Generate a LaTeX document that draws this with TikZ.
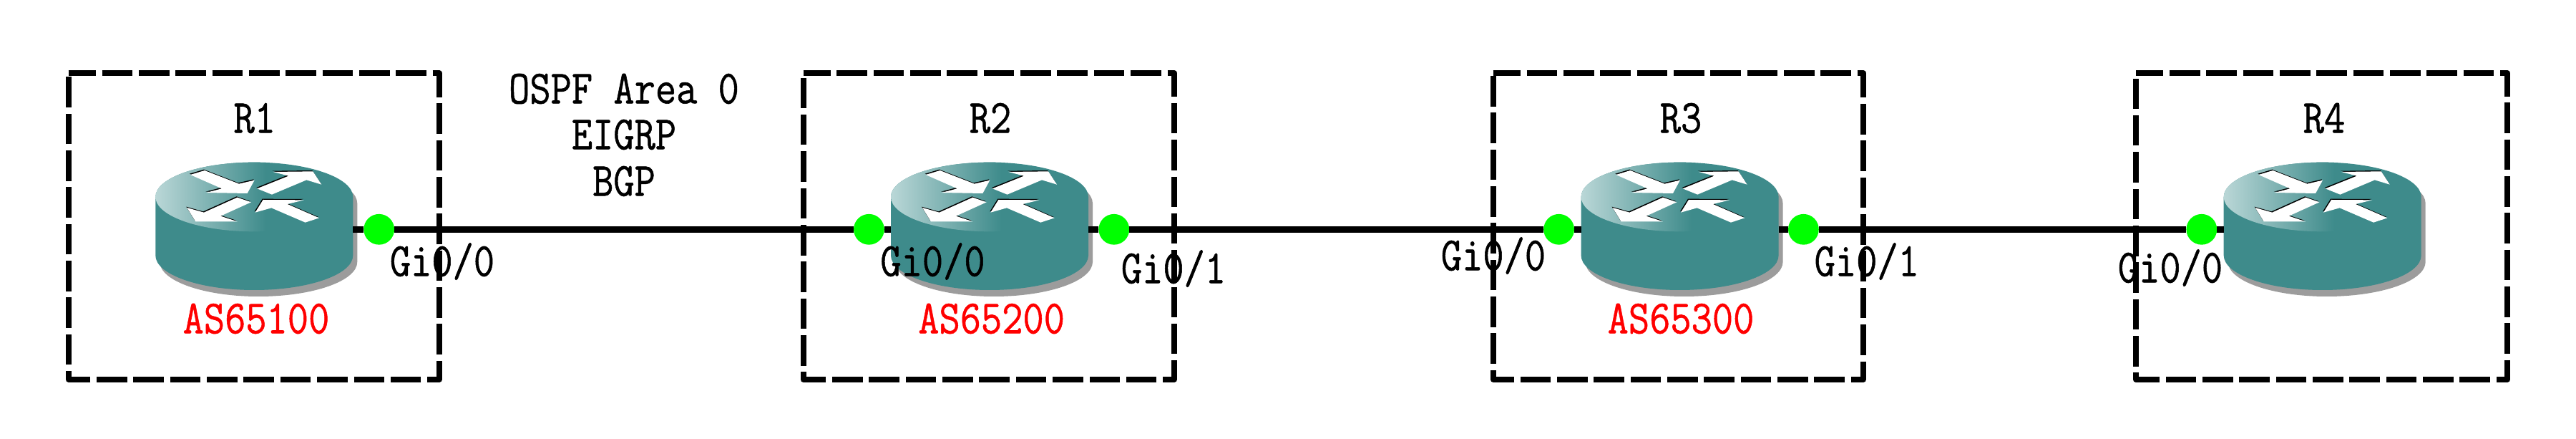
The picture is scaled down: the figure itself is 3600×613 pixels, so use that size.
\documentclass[tikz,border=0pt]{standalone}
\usepackage{fontspec}
\newfontfamily\lblfont[FakeBold=0.9]{Latin Modern Mono}
\definecolor{teal1}{HTML}{3E8B8B}
\definecolor{teal0}{HTML}{BAD7D7}
\definecolor{shadowgray}{HTML}{9C9C9C}
\definecolor{portgreen}{HTML}{00FF00}
\tikzset{
  areabox/.style={draw=black,line width=4pt,line join=round,dash pattern=on 21.3pt off 4.37pt,dash phase=2.2pt},
  routerhit/.style={rectangle,minimum width=138pt,minimum height=80pt,inner sep=0pt,outer sep=0pt},
  port/.style={circle,fill=portgreen,minimum size=21.4pt,inner sep=0pt,outer sep=0pt},
  link/.style={draw=black,line width=4.25pt},
  lbl/.style={font=\lblfont\fontsize{28.4}{33}\selectfont,text=black,inner sep=0pt},
  aslbl/.style={lbl,text=red},
  arrowfill/.style={fill=white},
  arrowedge/.style={fill=black}
}
\newcommand{\tallbox}[1]{\scalebox{1}[1.17]{#1}}
\newcommand{\arrowset}[1]{%
  \fill[#1] (258,102) -- (318,84) -- (462,140) -- (527,125) -- (497,180) -- (325,177) -- (390,160) -- cycle;
  \fill[#1] (538,160) -- (670,107) -- (605,90) -- (772,88) -- (808,143) -- (745,124) -- (600,185) -- cycle;
  \fill[#1] (455,197) -- (513,217) -- (385,275) -- (455,298) -- (280,298) -- (244,240) -- (315,260) -- cycle;
  \fill[#1] (798,283) -- (740,302) -- (598,241) -- (530,260) -- (563,207) -- (735,208) -- (665,225) -- cycle;
}
\newcommand{\routerimg}[2]{%
  \begin{scope}[shift={(#1,#2)},x=0.16667pt,y=-0.16667pt,shift={(-526,-195)}]
    \fill[shadowgray,shift={(18,27)}] (112,195) .. controls (112,115) and (297,50) .. (526,50) .. controls (755,50) and (940,115) .. (940,195) -- (940,440) .. controls (940,520) and (755,585) .. (526,585) .. controls (297,585) and (112,520) .. (112,440) -- cycle;
    \fill[teal1] (112,195) .. controls (112,115) and (297,50) .. (526,50) .. controls (755,50) and (940,115) .. (940,195) -- (940,440) .. controls (940,520) and (755,585) .. (526,585) .. controls (297,585) and (112,520) .. (112,440) -- cycle;
    \begin{scope}
      \clip (112,195) .. controls (112,115) and (297,50) .. (526,50) .. controls (755,50) and (940,115) .. (940,195) .. controls (940,275) and (755,340) .. (526,340) .. controls (297,340) and (112,275) .. (112,195) -- cycle;
      \shade[left color=teal0,right color=teal1] (112,50) rectangle (575,340);
    \end{scope}
    \begin{scope}[shift={(-3,-4)}]
      \arrowset{arrowedge}
    \end{scope}
    \arrowset{arrowfill}
  \end{scope}%
}
\begin{document}
\begin{tikzpicture}[x=0.5pt,y=-0.5pt]
\useasboundingbox (0,0) rectangle (3600,613);
% area boxes
\draw[areabox] (95.7,102) -- (613.6,102) -- (613.6,530) -- (95.7,530) -- cycle;
\draw[areabox] (1122.5,102) -- (1641,102) -- (1641,530) -- (1122.5,530) -- cycle;
\draw[areabox] (2086.7,102) -- (2603.9,102) -- (2603.9,530) -- (2086.7,530) -- cycle;
\draw[areabox] (2985,102) -- (3504,102) -- (3504,530) -- (2985,530) -- cycle;
% routers
\routerimg{355.3}{275}
\routerimg{1383}{275}
\routerimg{2347.6}{275}
\routerimg{3245.7}{275}
\node[routerhit] (r1) at (355.3,320.3) {};
\node[routerhit] (r2) at (1383,320.3) {};
\node[routerhit] (r3) at (2347.6,320.3) {};
\node[routerhit] (r4) at (3245.7,320.3) {};
% ports
\node[port] (r1g0) at (529.7,320.3) {};
\node[port] (r2g0) at (1214.4,320.3) {};
\node[port] (r2g1) at (1556.8,320.3) {};
\node[port] (r3g0) at (2178.6,320.3) {};
\node[port] (r3g1) at (2520.4,320.3) {};
\node[port] (r4g0) at (3076.8,320.3) {};
% links
\draw[link] (r1) -- (r1g0);
\draw[link] (r1g0) -- (r2g0);
\draw[link] (r2g0) -- (r2);
\draw[link] (r2) -- (r2g1);
\draw[link] (r2g1) -- (r3g0);
\draw[link] (r3g0) -- (r3);
\draw[link] (r3) -- (r3g1);
\draw[link] (r3g1) -- (r4g0);
\draw[link] (r4g0) -- (r4);
% labels
\node[lbl] (n1) at (355.7,165) {\tallbox{R1}};
\node[lbl] (n2) at (1384,165) {\tallbox{R2}};
\node[lbl] (n3) at (2349,165) {\tallbox{R3}};
\node[lbl] (n4) at (3248,165) {\tallbox{R4}};
\node[aslbl] (as1) at (358,445) {\tallbox{AS65100}};
\node[aslbl] (as2) at (1385.6,445) {\tallbox{AS65200}};
\node[aslbl] (as3) at (2349,445) {\tallbox{AS65300}};
\node[lbl] (p1) at (872,124) {\tallbox{OSPF Area 0}};
\node[lbl] (p2) at (872,188) {\tallbox{EIGRP}};
\node[lbl] (p3) at (872,253) {\tallbox{BGP}};
\node[lbl] (t1) at (618,365) {\tallbox{Gi0/0}};
\node[lbl] (t2) at (1303.5,365) {\tallbox{Gi0/0}};
\node[lbl] (t3) at (1640,375) {\tallbox{Gi0/1}};
\node[lbl] (t4) at (2087,357) {\tallbox{Gi0/0}};
\node[lbl] (t5) at (2608.8,365) {\tallbox{Gi0/1}};
\node[lbl] (t6) at (3033,374) {\tallbox{Gi0/0}};
\end{tikzpicture}
\end{document}
